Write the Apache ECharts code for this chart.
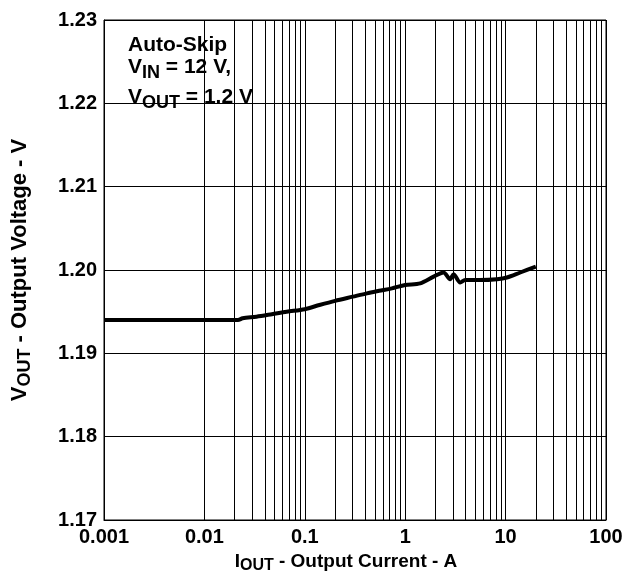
<!DOCTYPE html>
<html><head><meta charset="utf-8">
<script src="https://cdn.jsdelivr.net/npm/echarts@6/dist/echarts.min.js"></script>
<style>html,body{margin:0;padding:0;background:#fff}#c{width:628px;height:572px}</style>
</head><body><div id="c"></div>
<script>
const currentA = [0.001,0.002,0.005,0.01,0.0216,0.024,0.033,0.047,0.066,0.1,0.14,0.2,0.3,0.415,0.55,0.737,1.0,1.41,1.92,2.41,2.8,3.03,3.53,3.96,5.5,8.2,10.3,14,20];
const voutV    = [1.1940,1.1940,1.1940,1.1940,1.1940,1.1942,1.1944,1.1947,1.1950,1.1953,1.1958,1.1963,1.1968,1.1972,1.1975,1.1978,1.1982,1.1984,1.1992,1.1997,1.1989,1.1995,1.1985,1.1988,1.1988,1.1989,1.1991,1.1997,1.2004];
const xTickLabels = ['0.001','0.01','0.1','1','10','100'];
const minorX = [];
[0.001,0.01,0.1,1,10].forEach(d=>{for(let k=2;k<=9;k++) minorX.push(+(d*k).toPrecision(3));});

const F = 'Liberation Sans, Arial, sans-serif';
const txt = (size)=>({fontFamily:F,fontWeight:'bold',fontSize:size,color:'#000'});
const chart = echarts.init(document.getElementById('c'));
chart.setOption({
  animation:false,
  grid:{left:104,right:22,top:20,bottom:52,show:true,borderColor:'#000',borderWidth:1,
    containLabel:false,outerBoundsMode:'none'},
  xAxis:{type:'log',min:0.001,max:100,logBase:10,
    axisLine:{lineStyle:{color:'#000'}},axisTick:{show:false},
    splitLine:{show:true,lineStyle:{color:'#000',width:1}},
    axisLabel:Object.assign(txt(20),{margin:7,
      formatter:v=>{const s=xTickLabels.find(t=>Math.abs(+t-v)/v<1e-6);return s||'';}}),
    name:'{m|I}{s|OUT}{m| - Output Current - A}',nameLocation:'middle',nameGap:24,
    nameTextStyle:{padding:[0,18,0,0],rich:{m:txt(19),s:Object.assign(txt(16),{padding:[9,0,0,0]})}}
  },
  yAxis:{type:'value',min:1.17,max:1.23,interval:0.01,
    axisLine:{lineStyle:{color:'#000'}},axisTick:{show:false},
    splitLine:{show:true,lineStyle:{color:'#000',width:1}},
    axisLabel:Object.assign(txt(20),{margin:7,formatter:v=>v.toFixed(2)}),
    name:'{m|V}{s|OUT}{m| - Output Voltage - V}',nameLocation:'middle',nameGap:70,
    nameTextStyle:{rich:{m:txt(22),s:Object.assign(txt(18),{padding:[10,0,0,0]})}}
  },
  series:[{type:'line',data:currentA.map((x,i)=>[x,voutV[i]]),showSymbol:false,smooth:0.3,
    lineStyle:{color:'#000',width:4},z:5,
    markLine:{silent:true,symbol:'none',label:{show:false},animation:false,
      lineStyle:{color:'#000',width:1,type:'solid'},
      data:minorX.map(v=>({xAxis:v}))}
  }],
  graphic:[{type:'group',left:115,top:29,z:100,children:[
    {type:'rect',shape:{x:0,y:0,width:144,height:90},style:{fill:'#fff'}},
    {type:'text',x:13,y:16,style:{text:'Auto-Skip',font:'bold 21px '+F,fill:'#000',textVerticalAlign:'middle'}},
    {type:'text',x:13,y:38,style:{text:'{m|V}{s|IN}{m| = 12 V,}',textVerticalAlign:'middle',
      rich:{m:txt(21),s:Object.assign(txt(18),{padding:[12,0,0,0]})}}},
    {type:'text',x:13,y:68,style:{text:'{m|V}{s|OUT}{m| = 1.2 V}',textVerticalAlign:'middle',
      rich:{m:txt(21),s:Object.assign(txt(18),{padding:[12,0,0,0]})}}}
  ]}]
});
</script></body></html>
